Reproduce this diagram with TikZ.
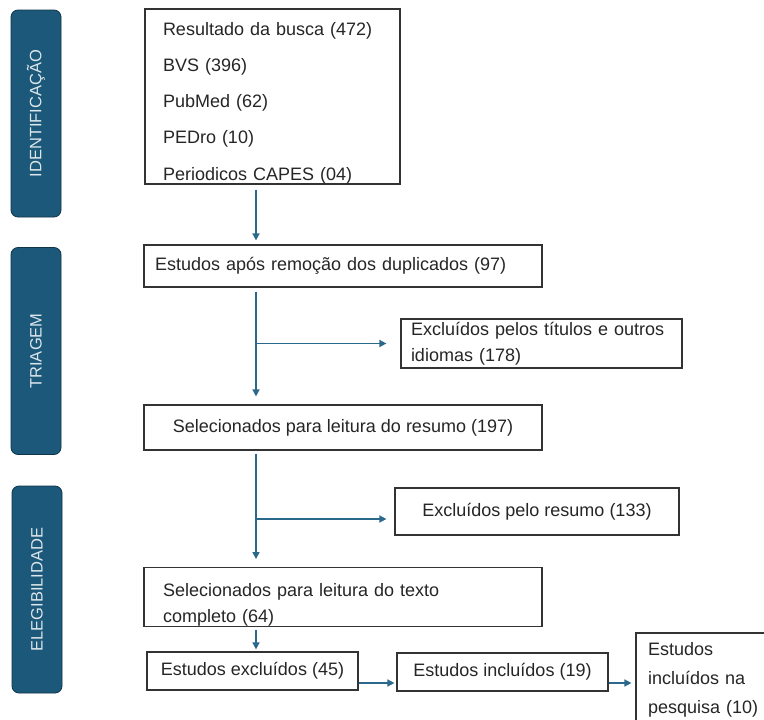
\documentclass[tikz,border=0pt]{standalone}
\usepackage{fontspec}
\setmainfont{Liberation Sans}
\usetikzlibrary{arrows.meta}
\definecolor{phaseblue}{RGB}{27,88,122}
\definecolor{linkblue}{RGB}{42,104,140}

\begin{document}
\begin{tikzpicture}[x=1pt,y=-1pt,>={Triangle[length=7pt,width=7pt]},
  box/.style={draw=black!80,line width=1.2pt,inner ysep=0pt,text=black!85,font=\fontsize{18}{26}\selectfont},
  phase/.style={draw=phaseblue!60!black,fill=phaseblue,line width=0.8pt,rounded corners=7pt,
    rotate=90,minimum width=207pt,minimum height=50pt,text=white!85!phaseblue,font=\fontsize{16.5}{19}\selectfont},
  link/.style={->,draw=linkblue,fill=linkblue,line width=1.6pt}]
\fill[white] (0,0) rectangle (764,720);
\useasboundingbox (0,0) rectangle (764,720);

% fases
\node[phase] (ident) at (36,113.5) {IDENTIFICAÇÃO};
\node[phase] (triag) at (36,351) {TRIAGEM};
\node[phase] (eleg) at (37,589.5) {ELEGIBILIDADE};

% caixas
\node[box,minimum width=255pt,minimum height=173pt,text width=219pt,inner xsep=18pt,align=left,
  font=\fontsize{18}{36.3}\selectfont] (busca) at (272.5,96.5)
  {\rule{0pt}{26pt}Resultado da busca (472)\\BVS (396)\\PubMed (62)\\PEDro (10)\\Periodicos CAPES (04)};
\node[box,minimum width=398pt,minimum height=42pt,text width=376pt,inner xsep=11pt,align=left] (dupl) at (343,266)
  {Estudos após remoção dos duplicados (97)};
\node[box,minimum width=281pt,minimum height=49pt,text width=261pt,inner xsep=10pt,align=left] (titul) at (541.5,343.5)
  {Excluídos pelos títulos e outros\\idiomas (178)};
\node[box,minimum width=398pt,minimum height=45pt] (resumo) at (343,427.5) {Selecionados para leitura do resumo (197)};
\node[box,minimum width=284pt,minimum height=47pt] (exres) at (537,511.5) {Excluídos pelo resumo (133)};
\node[box,minimum width=398pt,minimum height=58pt,text width=360pt,inner xsep=19pt,align=left] (texto) at (343,597)
  {\rule{0pt}{29pt}Selecionados para leitura do texto\\completo (64)};
\node[box,minimum width=211pt,minimum height=38pt] (exclu) at (252.5,671) {Estudos excluídos (45)};
\node[box,minimum width=211pt,minimum height=38pt] (inclu) at (502.5,672) {Estudos incluídos (19)};
\node[box,minimum width=140pt,minimum height=100pt,text width=116pt,inner xsep=12pt,align=left,
  font=\fontsize{18}{29}\selectfont] (pesq) at (706,683)
  {Estudos\\incluídos na\\pesquisa (10)\rule[-10pt]{0pt}{10pt}};

% setas
\coordinate (col) at (256,0);
\draw[link,shorten <=5pt,shorten >=4pt] (busca.south -| col) -- (dupl.north -| col);
\draw[link,shorten <=4pt,shorten >=8pt] (dupl.south -| col) -- (resumo.north -| col);
\draw[link,shorten >=14pt] (col |- titul.west) -- (titul.west);
\draw[link,shorten <=3pt,shorten >=8pt] (resumo.south -| col) -- (texto.north -| col);
\coordinate (br) at ([yshift=-7.5pt]exres.west);
\draw[link,shorten >=8pt] (col |- br) -- (br);
\draw[link,shorten <=3pt,shorten >=2pt] (texto.south -| col) -- (exclu.north -| col);
\coordinate (r1) at ([yshift=-12pt]exclu.east);
\draw[link,shorten >=2pt] (r1) -- (r1 -| inclu.west);
\coordinate (r2) at ([yshift=-11pt]inclu.east);
\draw[link,shorten >=4pt] (r2) -- (r2 -| pesq.west);
\end{tikzpicture}
\end{document}
